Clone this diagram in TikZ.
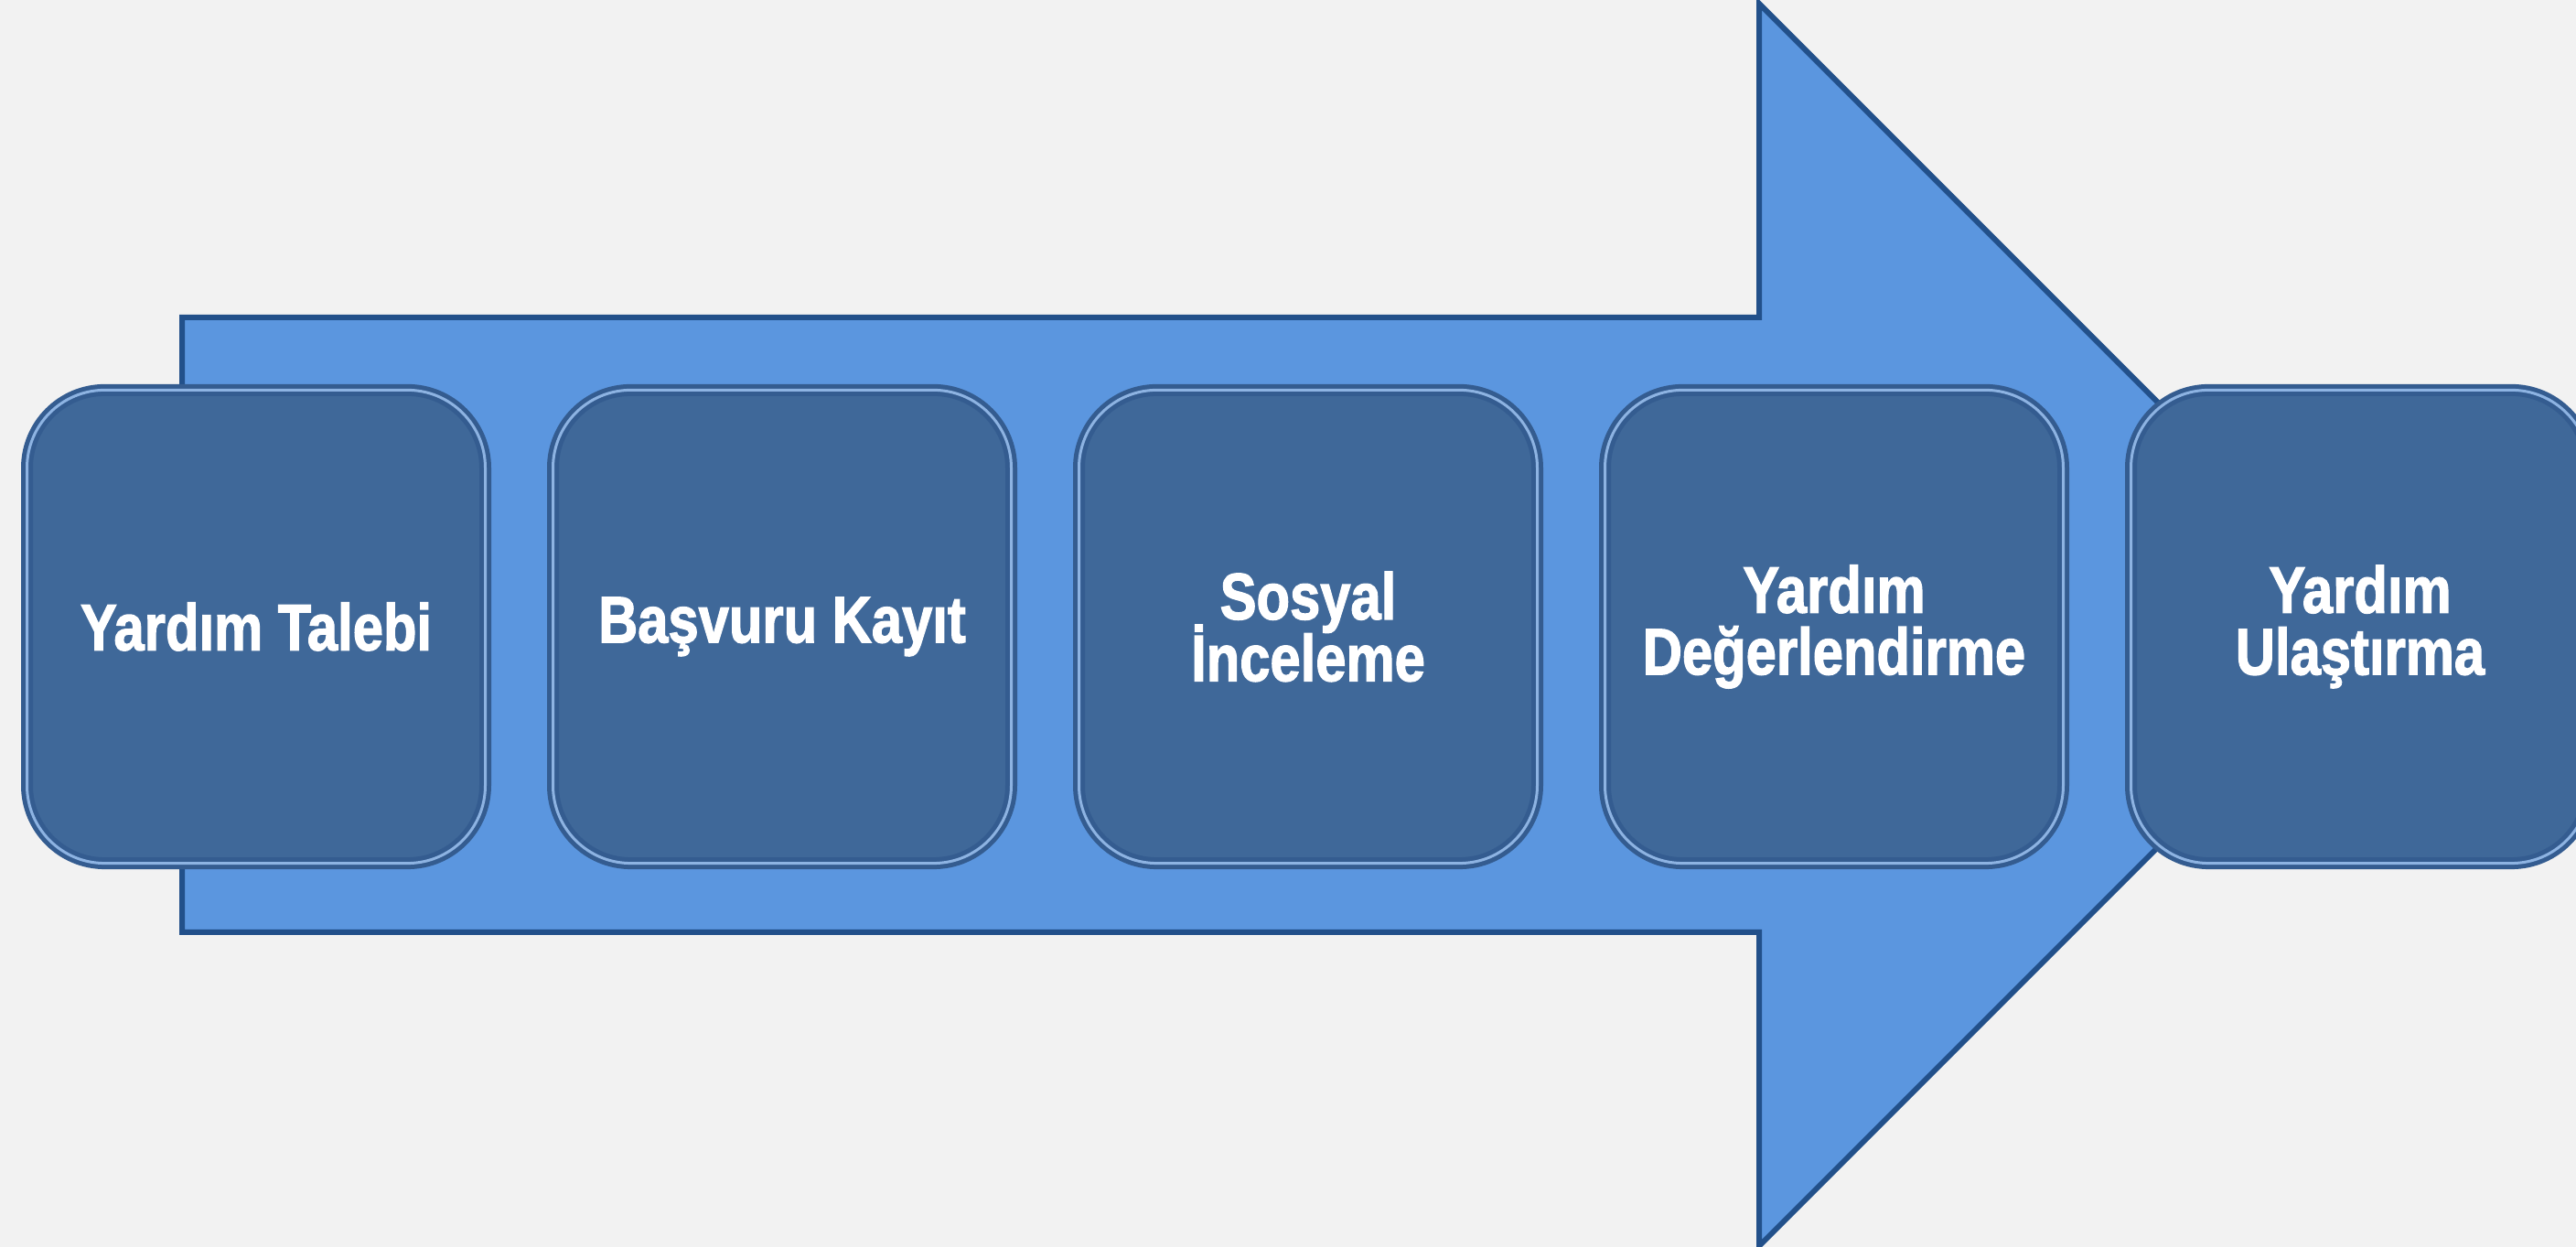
\documentclass[tikz,border=0pt]{standalone}
\usepackage{fontspec}
\setmainfont{Liberation Sans}[BoldFeatures={FakeBold=2}]
\newcommand\steptext{\bfseries\fontsize{17}{16}\selectfont\lineskiplimit=-20pt\relax}

\definecolor{bgcol}{HTML}{F2F2F2}
\definecolor{arrowfill}{HTML}{5B96DF}
\definecolor{arrowedge}{HTML}{22508A}
\definecolor{boxfill}{HTML}{3F6899}
\definecolor{rimdark}{HTML}{345C90}
\definecolor{rimlight}{HTML}{8DB3E2}

\begin{document}
\begin{tikzpicture}[
	stepbox/.style={rectangle, yscale=1.2, rounded corners=0.85cm, minimum width=5.01cm, minimum height=4.31cm,
		fill=boxfill, draw=rimdark, double=rimlight, double distance=0.03cm, line width=0.05cm,
		text=white, align=center, font=\steptext}
]

	\fill[color=bgcol] (0,0) rectangle (28.16,13.63);
	\useasboundingbox (0,0) rectangle (28.16,13.63);

	% big arrow behind the steps
	\fill[arrowfill, draw=arrowedge, line width=0.06cm] (1.99,10.16) -- (19.23,10.16) -- (19.23,13.59)
		-- (26.02,6.80) -- (19.23,0.01) -- (19.23,3.44) -- (1.99,3.44) -- cycle;

	\node[stepbox] (talep) at (2.80,6.78) {Yardım Talebi};
	\node[stepbox] (kayit) at (8.55,6.78) {Başvuru Kayıt};
	\node[stepbox] (inceleme) at (14.30,6.78) {Sosyal\\İnceleme};
	\node[stepbox] (degerlendirme) at (20.05,6.78) {Yardım\\Değerlendirme};
	\node[stepbox] (ulastirma) at (25.80,6.78) {Yardım\\Ulaştırma};

\end{tikzpicture}
\end{document}
